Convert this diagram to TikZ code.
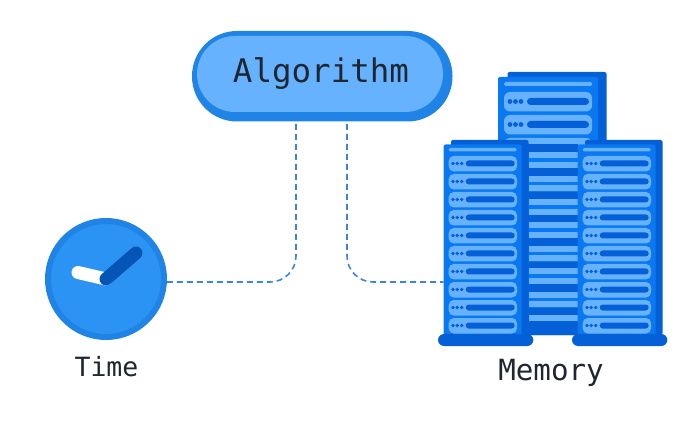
\documentclass[tikz,border=0pt]{standalone}
\usepackage{fontspec}
\newfontfamily\codefont{DejaVu Sans Mono}
\usetikzlibrary{calc}
\definecolor{ringB}{HTML}{2084E6}
\definecolor{pillB}{HTML}{66B2FF}
\definecolor{clockB}{HTML}{2B93F3}
\definecolor{handB}{HTML}{0455B5}
\definecolor{rackB}{HTML}{0A78F0}
\definecolor{rackD}{HTML}{0560D8}
\definecolor{linkB}{HTML}{3A86DC}
\definecolor{labelK}{HTML}{1E2630}
\tikzstyle{label}=[inner sep=0pt, text=labelK, font=\codefont]
\tikzstyle{link}=[draw=linkB, line width=1.6pt, dash pattern=on 6pt off 4pt, rounded corners=26pt]
\tikzstyle{rackfront}=[fill=rackB, rounded corners=2pt, inner sep=0pt, minimum width=78pt, minimum height=191pt]
\tikzstyle{hand}=[line width=13pt, line cap=round]

\begin{document}
\begin{tikzpicture}[x=1pt, y=-1pt]
			\useasboundingbox (0,0) rectangle (693,430);

			% Center rack
			\fill[rackD, rounded corners=2pt] (507.5,72) rectangle (606.5,335);
			\fill[rackB, rounded corners=2pt] (498,77) rectangle (598,335);
			\fill[pillB, rounded corners=1.5pt] (504,82) rectangle (592,86);
			\foreach \y in {92, 115}{
				\fill[pillB, rounded corners=6pt] (504,\y) rectangle (592,\y+19.5);
				\fill[rackD, rounded corners=3.5pt] (527,\y+6) rectangle (589,\y+13);
				\foreach \x in {510, 515.5, 521}{
					\fill[rackD] (\x,\y+9.5) circle (2.4);
				}
			}
			\fill[pillB, rounded corners=6pt] (504,138) rectangle (592,150);
			\fill[rackD] (528,144.5) rectangle (578,335);
			\foreach \y in {152, 176, 199, 222, 246, 268, 292}{
				\fill[rackB] (528,\y) rectangle (578,\y+16);
			}
			\foreach \y in {152, 162, 176, 185, 199, 209, 222, 232, 246, 255, 268, 278, 292, 301, 315}{
				\fill[pillB] (529,\y) rectangle (578,\y+6.2);
			}

			% Side racks
			\foreach \dx/\rackname in {0/rackL, 134/rackR}{
				\fill[rackD, rounded corners=2pt] (451+\dx,140) rectangle (528.5+\dx,335);
				\node[rackfront] (\rackname) at (482.7+\dx,240) {};
				\fill[pillB, rounded corners=1.5pt] (448.7+\dx,148) rectangle (516.7+\dx,151.5);
				\foreach \y in {156, 174, ..., 318}{
					\fill[pillB, rounded corners=5pt] (448.7+\dx,\y) rectangle (517+\dx,\y+15.5);
					\fill[rackD, rounded corners=3pt] (465.7+\dx,\y+4.5) rectangle (514.7+\dx,\y+10.5);
					\foreach \x in {453, 457.3, 461.7}{
						\fill[rackD] (\x+\dx,\y+7.5) circle (1.9);
					}
				}
				\fill[rackD, rounded corners=6pt] (438+\dx,334) rectangle (533.3+\dx,346);
			}

			% Algorithm
			\fill[ringB, rounded corners=45pt] (192,31) rectangle (452.5,121.5);
			\node[fill=pillB, rounded corners=38pt, inner sep=0pt, minimum width=246pt, minimum height=76pt] (algo) at (320,74) {};
			\node[label] (algoname) at (321,74) {\fontsize{32.5}{36}\selectfont Algorithm};

			% Clock
			\node[circle, fill=clockB, draw=ringB, line width=6pt, inner sep=0pt, minimum size=116pt] (clock) at (106,279) {};
			\draw[hand, white] (78,272.5) -- (clock.center);
			\draw[hand, handB] (clock.center) -- (136,253);

			\node[label] (timename) at (106.5,367) {\fontsize{26.5}{30}\selectfont Time};
			\node[label] (memname) at (551,373) {\fontsize{29.2}{34}\selectfont Memory};

			% Dashed links
			\coordinate (turnL) at (296,282);
			\coordinate (turnR) at (347,282);
			\coordinate (startL) at (296,124);
			\coordinate (startR) at (347,124);
			\draw[link] (startL) -- (turnL) -- (clock.east |- turnL);
			\draw[link] (startR) -- (turnR) -- (rackL.west |- turnR);
		\end{tikzpicture}
\end{document}
